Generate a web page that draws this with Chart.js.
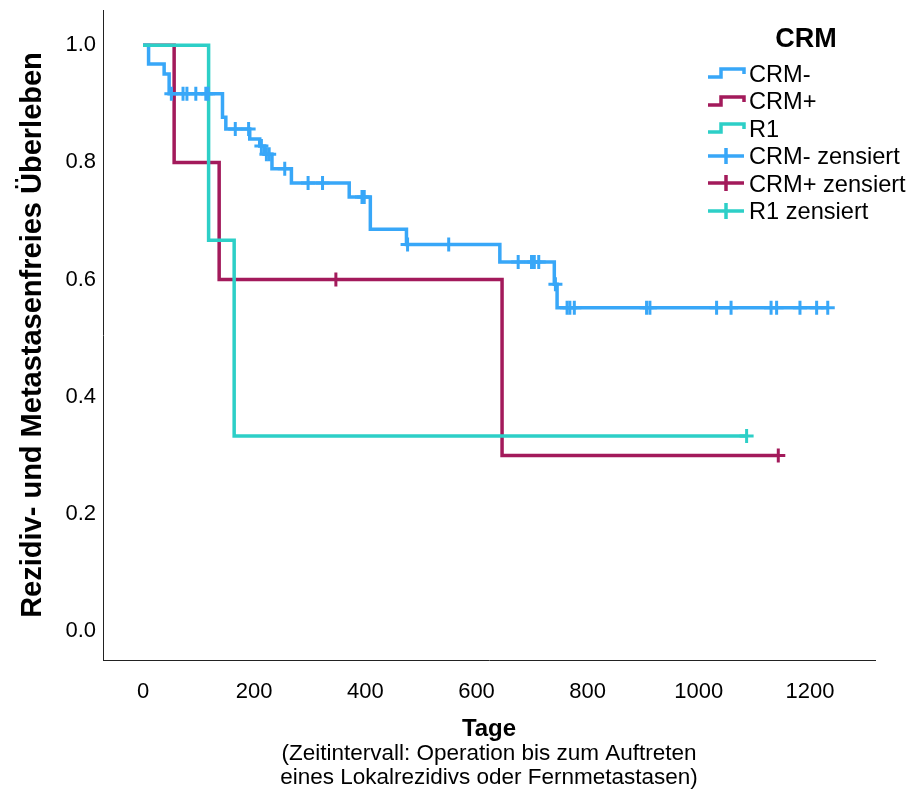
<!DOCTYPE html>
<html>
<head>
<meta charset="utf-8">
<script src="https://cdn.jsdelivr.net/npm/chart.js@4.4.1/dist/chart.umd.min.js"></script>
<style>
  html, body { margin: 0; padding: 0; background: #fff; }
  #wrap { position: relative; width: 909px; height: 794px; }
  #legend { position: absolute; left: 0; top: 0; width: 909px; height: 260px; pointer-events: none;
            font-family: "Liberation Sans", Arial, sans-serif; color: #000; }
  #legend .ttl { position: absolute; font-weight: bold; font-size: 27px; line-height: 30px; text-align: center; width: 140px; }
  #legend .row { position: absolute; left: 706px; height: 28px; line-height: 28px; font-size: 23.6px; white-space: nowrap; }
  #legend svg { vertical-align: middle; margin-right: 3px; position: relative; top: -2px; }
</style>
</head>
<body>
<div id="wrap">
  <canvas id="km" width="909" height="794"></canvas>
  <div id="legend"></div>
</div>
<script>
// Kaplan-Meier steps: time (Tage) and survival after that time
const crmNegTimes = [0, 10, 38, 47, 143, 149, 192, 210, 219, 232, 267, 371, 409, 474, 642, 740, 745, 1232];
const crmNegSurv  = [1.0, 0.968, 0.951, 0.917, 0.877, 0.857, 0.840, 0.828, 0.814, 0.789, 0.765, 0.741, 0.686, 0.660, 0.630, 0.592, 0.552, 0.552];
const crmPosTimes = [0, 56, 137, 646, 1143];
const crmPosSurv  = [1.0, 0.8, 0.6, 0.3, 0.3];
const r1Times = [0, 118, 164, 1086];
const r1Surv  = [1.0, 0.667, 0.333, 0.333];

// censored observations
const crmNegCensTimes = [51, 72, 79, 95, 113, 117, 166, 190, 213, 222, 227, 255, 297, 323, 394, 398, 476, 550,
                         675, 699, 704, 712, 742, 763, 768, 776, 906, 912, 1032, 1058, 1130, 1140, 1182, 1212, 1232];
const crmNegCensSurv  = [0.917, 0.917, 0.917, 0.917, 0.917, 0.917, 0.857, 0.857, 0.828, 0.814, 0.814, 0.789, 0.765, 0.765,
                         0.741, 0.741, 0.660, 0.660, 0.630, 0.630, 0.630, 0.630, 0.592, 0.552, 0.552, 0.552, 0.552, 0.552,
                         0.552, 0.552, 0.552, 0.552, 0.552, 0.552, 0.552];
const crmPosCensTimes = [347, 1143];
const crmPosCensSurv  = [0.6, 0.3];
const r1CensTimes = [1086];
const r1CensSurv  = [0.333];

const xTicks = [0, 200, 400, 600, 800, 1000, 1200];
const yTicks = [0, 0.2, 0.4, 0.6, 0.8, 1.0];
const noteLines = ['(Zeitintervall: Operation bis zum Auftreten', 'eines Lokalrezidivs oder Fernmetastasen)'];

const BLUE = '#38a7f8';
const MAROON = '#a31a5b';
const TEAL = '#2dcfc7';
const FONT = '"Liberation Sans", Arial, sans-serif';

function pts(xs, ys) {
    return xs.map((x, i) => ({x: x, y: ys[i]}));
}

function stepSet(label, xs, ys, color, order) {
    return {
        label: label, data: pts(xs, ys), borderColor: color, borderWidth: 3.5,
        stepped: 'before', pointRadius: 0, fill: false, order: order,
        borderJoinStyle: 'miter', borderCapStyle: 'butt'
    };
}

function censSet(label, xs, ys, color, order) {
    return {
        label: label, data: pts(xs, ys), borderColor: color, backgroundColor: color,
        showLine: false, pointStyle: 'cross', pointRadius: 7, borderWidth: 3, order: order
    };
}

// note under the x axis title, centred on the plot area
const notePlugin = {
    id: 'note',
    afterDraw(chart) {
        const ctx = chart.ctx;
        const cx = (chart.chartArea.left + chart.chartArea.right) / 2;
        ctx.save();
        ctx.fillStyle = '#000';
        ctx.font = '22.5px ' + FONT;
        ctx.textAlign = 'center';
        ctx.textBaseline = 'middle';
        noteLines.forEach((t, i) => ctx.fillText(t, cx, 754 + i * 24));
        ctx.restore();
    }
};

new Chart(document.getElementById('km'), {
    type: 'line',
    data: {
        datasets: [
            stepSet('CRM-', crmNegTimes, crmNegSurv, BLUE, 3),
            stepSet('CRM+', crmPosTimes, crmPosSurv, MAROON, 4),
            stepSet('R1', r1Times, r1Surv, TEAL, 2),
            censSet('CRM- zensiert', crmNegCensTimes, crmNegCensSurv, BLUE, 0),
            censSet('CRM+ zensiert', crmPosCensTimes, crmPosCensSurv, MAROON, 1),
            censSet('R1 zensiert', r1CensTimes, r1CensSurv, TEAL, 1)
        ]
    },
    plugins: [notePlugin],
    options: {
        responsive: false,
        animation: false,
        layout: { padding: { left: 0, right: 34, top: 8, bottom: 52 } },
        plugins: {
            legend: { display: false },
            tooltip: { enabled: false }
        },
        scales: {
            x: {
                type: 'linear', min: -72, max: 1317,
                afterBuildTicks: s => { s.ticks = xTicks.map(v => ({value: v})); },
                afterFit: s => { s.height = 82; s.paddingLeft = 0; s.paddingRight = 0; },
                grid: { display: false, drawTicks: false },
                border: { display: true, color: '#222', width: 1 },
                ticks: { color: '#000', padding: 19, font: { family: FONT, size: 22 }, maxRotation: 0,
                         callback: v => String(v) },
                title: { display: true, text: 'Tage', color: '#000',
                         font: { family: FONT, size: 24, weight: 'bold' }, padding: { top: 0, bottom: -2 } }
            },
            y: {
                type: 'linear', min: -0.049, max: 1.06,
                afterBuildTicks: s => { s.ticks = yTicks.map(v => ({value: v})); },
                afterFit: s => { s.width = 103; s.paddingTop = 0; s.paddingBottom = 0; },
                grid: { display: false, drawTicks: false },
                border: { display: true, color: '#222', width: 1 },
                ticks: { color: '#000', padding: 7, font: { family: FONT, size: 22 },
                         callback: v => v.toFixed(1) },
                title: { display: true, text: 'Rezidiv- und Metastasenfreies Überleben', color: '#000',
                         font: { family: FONT, size: 29, weight: 'bold' }, padding: { top: 16, bottom: 0 } }
            }
        }
    }
});

// legend drawn as HTML over the plot
const legendItems = [
    {label: 'CRM-', color: BLUE, kind: 'step'},
    {label: 'CRM+', color: MAROON, kind: 'step'},
    {label: 'R1', color: TEAL, kind: 'step'},
    {label: 'CRM- zensiert', color: BLUE, kind: 'cross'},
    {label: 'CRM+ zensiert', color: MAROON, kind: 'cross'},
    {label: 'R1 zensiert', color: TEAL, kind: 'cross'}
];
const legend = document.getElementById('legend');
const ttl = document.createElement('div');
ttl.className = 'ttl';
ttl.textContent = 'CRM';
ttl.style.left = (806 - 70) + 'px';
ttl.style.top = (38 - 15) + 'px';
legend.appendChild(ttl);
legendItems.forEach((it, i) => {
    const row = document.createElement('div');
    row.className = 'row';
    row.style.top = (73.5 + 27.5 * i - 14) + 'px';
    let icon;
    if (it.kind === 'step') {
        icon = '<svg width="40" height="16"><path d="M2 12 H15 V4 H38 V9" fill="none" stroke="' + it.color +
               '" stroke-width="3.5"/></svg>';
    } else {
        icon = '<svg width="40" height="18"><path d="M2 9 H38 M20 1 V17" fill="none" stroke="' + it.color +
               '" stroke-width="3.5"/></svg>';
    }
    row.innerHTML = icon + '<span>' + it.label + '</span>';
    legend.appendChild(row);
});
</script>
</body>
</html>
